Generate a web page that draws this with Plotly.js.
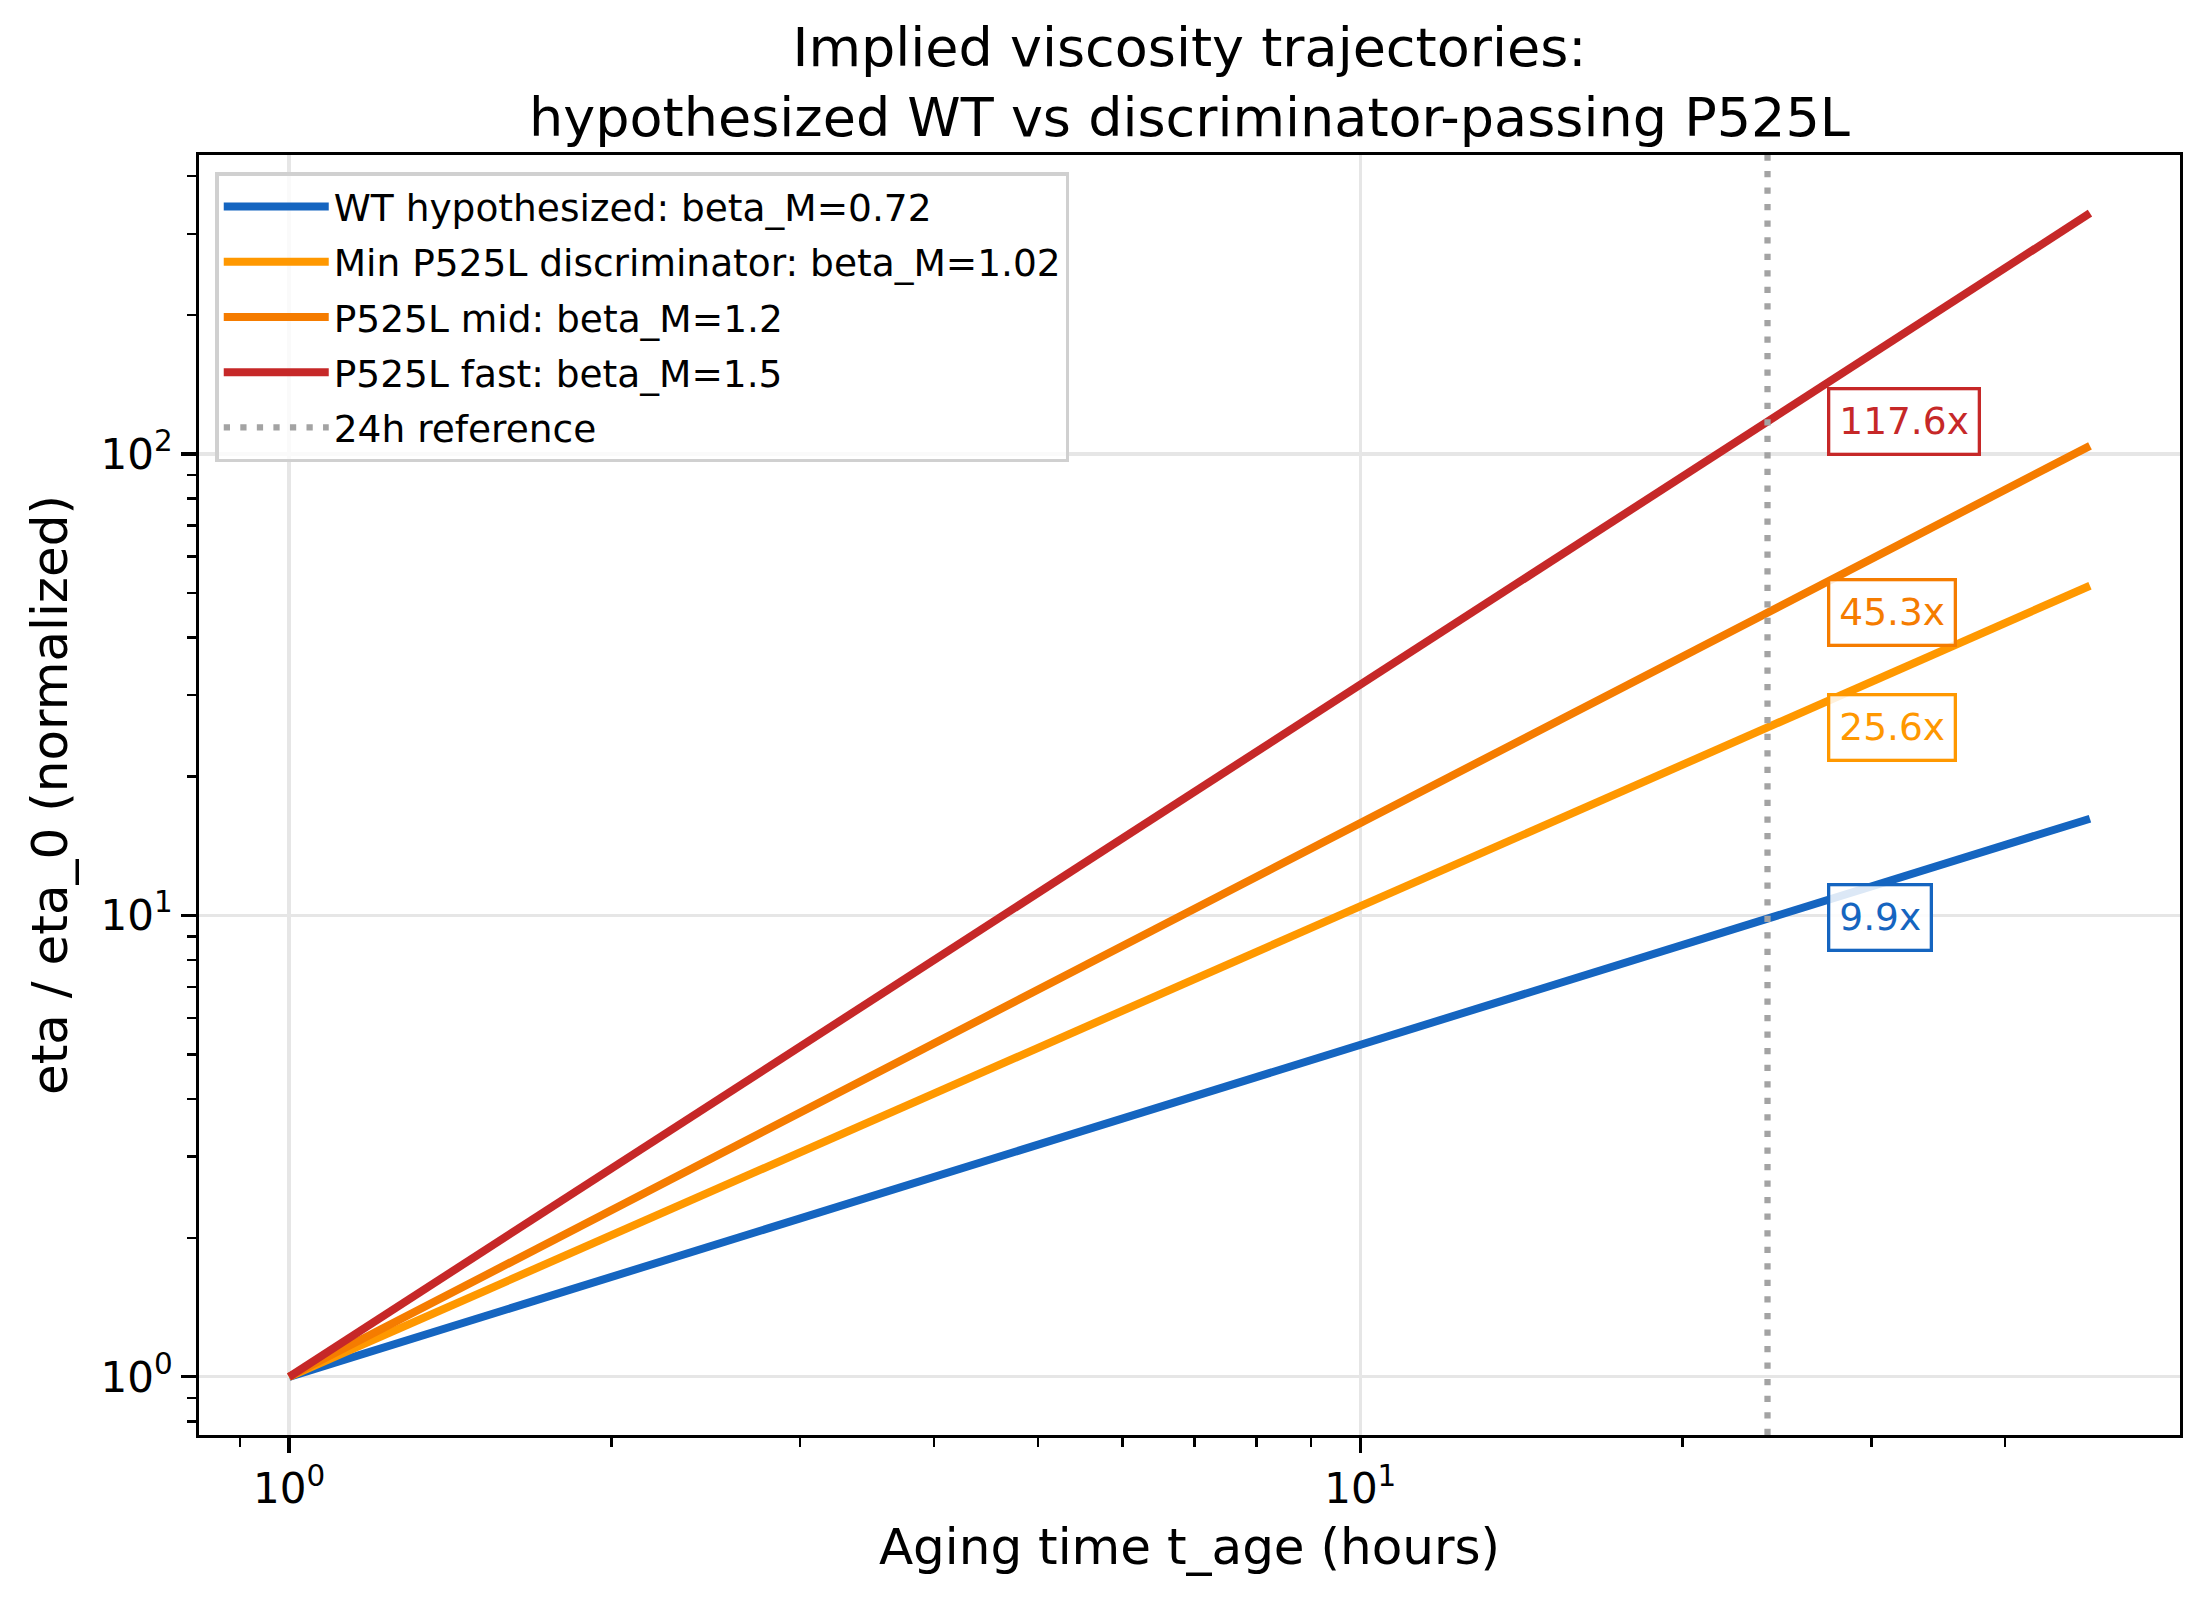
<!DOCTYPE html>
<html>
<head>
<meta charset="utf-8">
<script src="https://cdn.plot.ly/plotly-3.0.1.min.js"></script>
<style>html,body{margin:0;padding:0;background:#fff;}#chart{width:2208px;height:1604px;}</style>
</head>
<body>
<div id="chart"></div>
<script>
// ---- data ----
const tHours = [1, 24, 48];
const wtHyp = [1, 9.9, 16.2];
const minP525L = [1, 25.6, 51.8];
const midP525L = [1, 45.3, 104.1];
const fastP525L = [1, 117.6, 332.5];
const seriesNames = [
  'WT hypothesized: beta_M=0.72',
  'Min P525L discriminator: beta_M=1.02',
  'P525L mid: beta_M=1.2',
  'P525L fast: beta_M=1.5'
];
const refHour = 24;
const refName = '24h reference';
const at24Values = [9.9, 25.6, 45.3, 117.6];
const at24Labels = ['9.9x', '25.6x', '45.3x', '117.6x'];
const xTickVals = [1, 10];
const xTickText = ['10<sup>0</sup>', '10<sup>1</sup>'];
const yTickVals = [1, 10, 100];
const yTickText = ['10<sup>0</sup>', '10<sup>1</sup>', '10<sup>2</sup>'];
const xMinorTicks = [0.9, 2, 3, 4, 5, 6, 7, 8, 9, 20, 30, 40];
const yMinorTicks = [0.8, 0.9, 2, 3, 4, 5, 6, 7, 8, 9, 20, 30, 40, 50, 60, 70, 80, 90, 200, 300, 400];

// ---- styles ----
const colors = ['#1565C0', '#FF9800', '#F57C00', '#C62828'];
const seriesY = [wtHyp, minP525L, midP525L, fastP525L];
const FONT = 'DejaVu Sans, Verdana, sans-serif';

const traces = seriesY.map((ys, i) => ({
  type: 'scatter', mode: 'lines',
  x: tHours, y: ys, name: seriesNames[i],
  legendgroup: 'g' + i,
  line: {color: colors[i], width: 8},
  hoverinfo: 'skip'
}));

const annotations = at24Values.map((v, i) => ({
  x: Math.log10(refHour * 1.15), y: Math.log10(v), xref: 'x', yref: 'y',
  text: at24Labels[i], showarrow: false,
  xanchor: 'left', yanchor: 'middle', xshift: -6,
  font: {family: FONT, size: 37.5, color: colors[i]},
  bgcolor: 'rgba(255,255,255,0.85)',
  bordercolor: colors[i], borderwidth: 3.3, borderpad: 9
}));

const axisCommon = {
  type: 'log', showline: true, linecolor: 'black', linewidth: 3.3, mirror: true,
  ticks: 'outside', ticklen: 14.6, tickwidth: 3.3, tickcolor: 'black',
  tickmode: 'array',
  tickfont: {family: FONT, size: 42, color: 'black'},
  showgrid: true, gridcolor: '#e6e6e6', gridwidth: 3.3,
  zeroline: false, automargin: false
};

const layout = {
  width: 2208, height: 1604,
  margin: {l: 199, r: 28, t: 155, b: 169},
  paper_bgcolor: 'white', plot_bgcolor: 'white',
  font: {family: FONT, color: 'black'},
  title: {
    text: 'Implied viscosity trajectories:<br>hypothesized WT vs discriminator-passing P525L',
    font: {family: FONT, size: 54, color: 'black'},
    x: 0.5, xanchor: 'center', xref: 'paper',
    y: 1 - 66 / 1604, yanchor: 'middle', yref: 'container'
  },
  xaxis: Object.assign({}, axisCommon, {
    range: [-0.0841, 1.7653],
    tickvals: xTickVals, ticktext: xTickText,
    minor: {tickmode: 'array', tickvals: xMinorTicks, ticks: 'outside', ticklen: 8.3, tickwidth: 2.5, tickcolor: 'black', showgrid: false},
    title: {text: 'Aging time t_age (hours)', font: {family: FONT, size: 50, color: 'black'}, standoff: 17}
  }),
  yaxis: Object.assign({}, axisCommon, {
    range: [-0.1261, 2.6479],
    tickvals: yTickVals, ticktext: yTickText,
    minor: {tickmode: 'array', tickvals: yMinorTicks, ticks: 'outside', ticklen: 8.3, tickwidth: 2.5, tickcolor: 'black', showgrid: false},
    title: {text: 'eta / eta_0 (normalized)', font: {family: FONT, size: 50, color: 'black'}, standoff: 18}
  }),
  showlegend: true,
  legend: {
    x: 0.0083, y: 0.9865, xanchor: 'left', yanchor: 'top',
    bgcolor: 'rgba(255,255,255,0.8)', bordercolor: '#d0d0d0', borderwidth: 3.3,
    font: {family: FONT, size: 37.5, color: 'black'},
    itemwidth: 105, tracegroupgap: 3.5, traceorder: 'grouped'
  },
  shapes: [{
    type: 'line', xref: 'x', yref: 'paper',
    x0: refHour, x1: refHour, y0: 0, y1: 1,
    line: {color: '#a3a3a3', width: 6.25, dash: '6.25px,10.3px'},
    name: refName, showlegend: true, legendgroup: 'g4', layer: 'above'
  }],
  annotations: annotations
};

Plotly.newPlot('chart', traces, layout, {staticPlot: true, displayModeBar: false});
</script>
</body>
</html>
